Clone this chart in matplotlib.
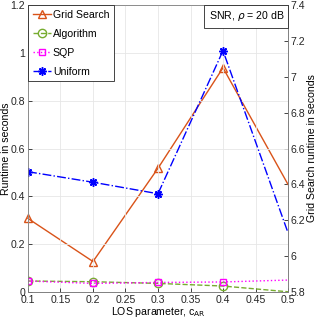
import numpy as np
import matplotlib.pyplot as plt

plt.rcParams['font.family'] = ['Liberation Sans', 'DejaVu Sans']
plt.rcParams['font.size'] = 7.6

c_ar = [0.1, 0.2, 0.3, 0.4, 0.5]
grid_search = [6.21, 5.97, 6.49, 7.05, 6.40]   # right axis
algorithm = [0.046, 0.043, 0.036, 0.025, 0.001]
sqp = [0.046, 0.036, 0.040, 0.042, 0.050]
uniform = [0.503, 0.459, 0.411, 1.009, 0.248]

orange = '#D95319'
green = '#77AC30'
magenta = '#FF00FF'
blue = '#0000FF'
mk = [0, 1, 2, 3]

fig = plt.figure(figsize=(3.16, 3.21), dpi=100)
ax = fig.add_axes([0.0886, 0.0903, 0.8228, 0.894])
ax2 = ax.twinx()
ax.set_zorder(ax2.get_zorder() + 1)
ax.patch.set_visible(False)

l1, = ax2.plot(c_ar, grid_search, '-^', color=orange, lw=1.0, ms=6, mfc='none',
               markevery=mk, label='Grid Search', clip_on=False)
l2, = ax.plot(c_ar, algorithm, '--o', color=green, lw=1.0, ms=6, mfc='none',
              markevery=mk, label='Algorithm')
l3, = ax.plot(c_ar, sqp, ':s', color=magenta, lw=1.0, ms=5, mfc='none',
              markevery=mk, label='SQP')
l4, = ax.plot(c_ar, uniform, '-.', marker=(8, 2, 0), color=blue, lw=1.0, ms=6,
              mew=1.1, markevery=mk, label='Uniform')

ax.set_xlim(0.1, 0.5)
ax.set_ylim(0, 1.2)
ax2.set_ylim(5.8, 7.4)
ax.set_xticks(np.arange(0.1, 0.51, 0.05))
ax.set_xticklabels(['0.1', '0.15', '0.2', '0.25', '0.3', '0.35', '0.4', '0.45', '0.5'])
ax.set_yticks([0, 0.2, 0.4, 0.6, 0.8, 1, 1.2])
ax.set_yticklabels(['0', '0.2', '0.4', '0.6', '0.8', '1', '1.2'])
ax2.set_yticks(np.arange(5.8, 7.41, 0.2))
ax2.set_yticklabels(['5.8', '6', '6.2', '6.4', '6.6', '6.8', '7', '7.2', '7.4'])

ax.grid(True, color='#e6e6e6', lw=0.6)
ax.set_axisbelow(True)
for a in (ax, ax2):
    a.tick_params(direction='in', length=3, width=0.6, colors='#262626', pad=2)
    for s in a.spines.values():
        s.set_color('#808080')
        s.set_linewidth(0.6)

ax.set_xlabel('LOS parameter, c$_{\\mathrm{AR}}$', labelpad=0)
ax.set_ylabel('Runtime in seconds', labelpad=0)
ax2.set_ylabel('Grid Search runtime in seconds', labelpad=1)

leg = ax.legend(handles=[l1, l2, l3, l4], loc='upper left', fancybox=False,
                edgecolor='#262626', framealpha=1, borderaxespad=0,
                handlelength=1.7, handletextpad=0.2, labelspacing=0.85,
                borderpad=0.45)
leg.get_frame().set_linewidth(0.6)

ax.text(0.985, 0.985, 'SNR, $\\rho$ = 20 dB', transform=ax.transAxes,
        ha='right', va='top',
        bbox=dict(boxstyle='square,pad=0.4', fc='white', ec='#262626', lw=0.6))

fig.savefig('out.png', dpi=100)
